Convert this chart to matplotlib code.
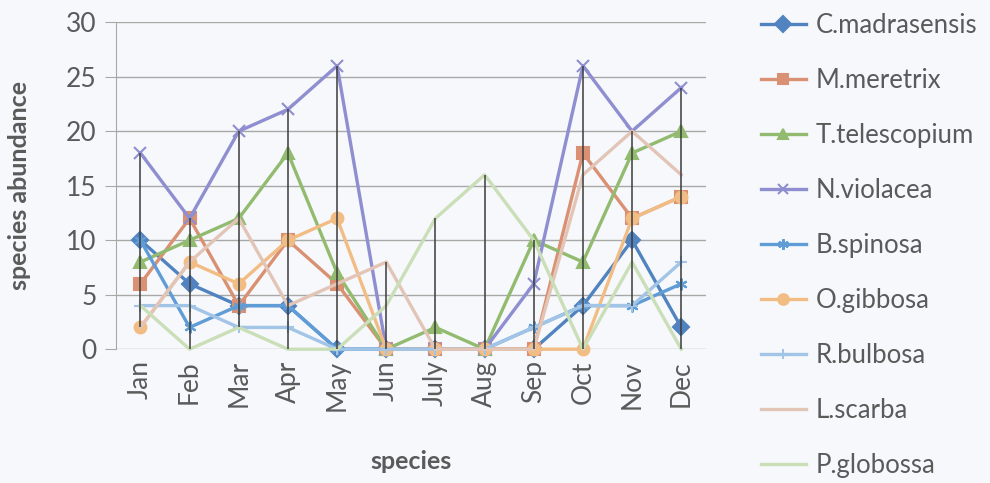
import matplotlib.pyplot as plt
import numpy as np

months = ["Jan", "Feb", "Mar", "Apr", "May", "Jun", "July", "Aug", "Sep", "Oct", "Nov", "Dec"]

species_names = [
    "C.madrasensis", "M.meretrix", "T.telescopium", "N.violacea", "B.spinosa",
    "O.gibbosa", "R.bulbosa", "L.scarba", "P.globossa",
]
c_madrasensis = [10, 6, 4, 4, 0, 0, 0, 0, 0, 4, 10, 2]
m_meretrix = [6, 12, 4, 10, 6, 0, 0, 0, 0, 18, 12, 14]
t_telescopium = [8, 10, 12, 18, 7, 0, 2, 0, 10, 8, 18, 20]
n_violacea = [18, 12, 20, 22, 26, 0, 0, 0, 6, 26, 20, 24]
b_spinosa = [10, 2, 4, 4, 0, 0, 0, 0, 2, 4, 4, 6]
o_gibbosa = [2, 8, 6, 10, 12, 0, 0, 0, 0, 0, 12, 14]
r_bulbosa = [4, 4, 2, 2, 0, 0, 0, 0, 2, 4, 4, 8]
l_scarba = [2, 8, 12, 4, 6, 8, 0, 0, 0, 16, 20, 16]
p_globossa = [4, 0, 2, 0, 0, 4, 12, 16, 10, 0, 8, 0]

series = [c_madrasensis, m_meretrix, t_telescopium, n_violacea, b_spinosa,
          o_gibbosa, r_bulbosa, l_scarba, p_globossa]

colors = ["#5083c0", "#da9072", "#92bb70", "#8e8ed0", "#609cd6",
          "#f2bd84", "#a2c4e6", "#e3c5b8", "#cadeb8"]
markers = ["D", "s", "^", "x", (6, 2, 0), "o", "+", None, None]

TEXT = "#5a5a5a"
GRID = "#a8a8a8"
BG = "#f6f8fb"

plt.rcParams["font.family"] = ["Lato", "DejaVu Sans"]

fig = plt.figure(figsize=(9.9, 4.83), dpi=100, facecolor=BG)
ax = fig.add_axes([0.117, 0.277, 0.596, 0.677])
ax.set_facecolor(BG)

x = np.arange(len(months))
for vals, name, col, mk in zip(series, species_names, colors, markers):
    ax.plot(x, vals, color=col, linewidth=2.4, marker=mk, markersize=8.5,
            markeredgewidth=1.5, markeredgecolor=col, markerfacecolor=col,
            label=name, clip_on=False, zorder=3)

# high-low lines
data = np.array(series)
ax.vlines(x, data.min(axis=0), data.max(axis=0), color="#3c3c3c",
          linewidth=1.1, zorder=5)

ax.set_xlim(-0.5, len(months) - 0.5)
ax.set_ylim(0, 30)
ax.set_yticks(range(0, 31, 5))
ax.set_xticks(x)
ax.set_xticklabels(months, rotation=90)
ax.yaxis.grid(True, color=GRID, linewidth=1.0)
ax.set_axisbelow(True)
for side in ["top", "right", "bottom"]:
    ax.spines[side].set_visible(False)
ax.spines["left"].set_color(GRID)
ax.tick_params(axis="y", length=8, color=GRID, labelsize=19, labelcolor=TEXT, pad=6)
ax.tick_params(axis="x", length=0, labelsize=19, labelcolor=TEXT, pad=8)

ax.set_xlabel("species", fontsize=18, fontweight="bold", color=TEXT, labelpad=28)
ax.set_ylabel("species abundance", fontsize=18, fontweight="bold", color=TEXT, labelpad=25)

leg = ax.legend(loc="upper left", bbox_to_anchor=(0.758, 0.995),
                bbox_transform=fig.transFigure, frameon=False,
                fontsize=18.5, labelcolor=TEXT, handlelength=1.75,
                handletextpad=0.4, labelspacing=1.17, borderaxespad=0,
                markerscale=0.9)

fig.savefig("out.png", dpi=100, facecolor=BG)
